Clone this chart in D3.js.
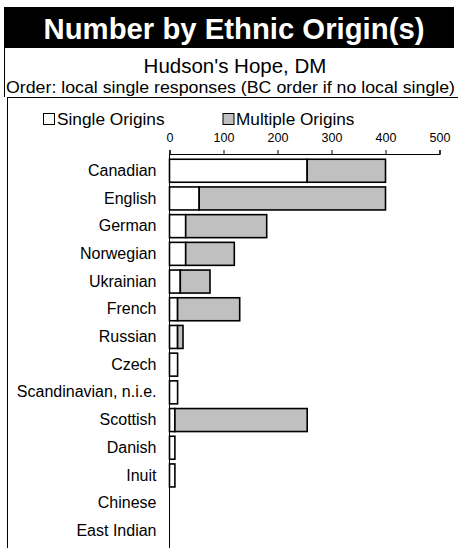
<!DOCTYPE html>
<html><head><meta charset="utf-8">
<script src="https://cdn.jsdelivr.net/npm/d3@7"></script>
<style>body{margin:0;background:#fff}svg{display:block;font-family:"Liberation Sans",Arial,sans-serif}</style>
</head><body>
<svg id="c" width="458" height="548"></svg>
<script>
const categories = ["Canadian","English","German","Norwegian","Ukrainian","French","Russian","Czech","Scandinavian, n.i.e.","Scottish","Danish","Inuit","Chinese","East Indian"];
const singleOrigins = [255,55,30,30,20,15,15,15,15,10,10,10,0,0];
const multipleOrigins = [145,345,150,90,55,115,10,0,0,245,0,0,0,0];
const tickValues = [0,100,200,300,400,500];

const svg = d3.select("#c");
// title bar
svg.append("rect").attr("x",4).attr("y",7).attr("width",450).attr("height",41).attr("fill","#000");
svg.append("text").attr("x",234).attr("y",39).attr("text-anchor","middle").attr("fill","#fff")
  .attr("font-size",29.3).attr("font-weight","bold").text("Number by Ethnic Origin(s)");
svg.append("line").attr("x1",4.5).attr("x2",4.5).attr("y1",48).attr("y2",97).attr("stroke","#000");
svg.append("text").attr("x",235).attr("y",72.5).attr("text-anchor","middle").attr("font-size",20.5).text("Hudson's Hope, DM");
svg.append("text").attr("x",6).attr("y",92.5).attr("font-size",16)
  .attr("textLength",449).attr("lengthAdjust","spacingAndGlyphs")
  .text("Order: local single responses (BC order if no local single)");
// plot frame
svg.append("line").attr("x1",7).attr("x2",458).attr("y1",97.5).attr("y2",97.5).attr("stroke","#000");
svg.append("line").attr("x1",7.5).attr("x2",7.5).attr("y1",97).attr("y2",548).attr("stroke","#000");

// legend
svg.append("rect").attr("x",43.5).attr("y",113.5).attr("width",11).attr("height",11).attr("fill","#fff").attr("stroke","#000");
svg.append("text").attr("x",57).attr("y",125).attr("font-size",17.3).text("Single Origins");
svg.append("rect").attr("x",223).attr("y",113.5).attr("width",11).attr("height",11).attr("fill","#c0c0c0").attr("stroke","#000");
svg.append("text").attr("x",236).attr("y",125).attr("font-size",17.2).text("Multiple Origins");

const x = d3.scaleLinear().domain([0,500]).range([169.5,439.5]);
const y = d3.scaleBand().domain(categories).range([156.9,544.7]).paddingInner(0.17).paddingOuter(0.085);

const xAxis = svg.append("g").attr("transform","translate(0,154)")
  .call(d3.axisTop(x).tickValues(tickValues).tickSize(4).tickPadding(8));
xAxis.select(".domain").attr("stroke","#000").attr("stroke-width",1.2);
xAxis.selectAll("text").attr("font-size",12.5).attr("font-family","Liberation Sans, Arial, sans-serif").attr("fill","#000");

const yAxis = svg.append("g").attr("transform","translate(169.5,0)")
  .call(d3.axisLeft(y).tickSize(0).tickPadding(13));
yAxis.select(".domain").remove();
yAxis.selectAll("text").attr("font-size",16).attr("font-family","Liberation Sans, Arial, sans-serif").attr("fill","#000");
svg.append("line").attr("x1",169.5).attr("x2",169.5).attr("y1",154).attr("y2",548).attr("stroke","#000");

const rows = categories.map((c,i)=>({c,s:singleOrigins[i],m:multipleOrigins[i]}));
svg.append("g").selectAll("rect").data(rows.filter(d=>d.s>0)).join("rect")
  .attr("x",x(0)).attr("y",d=>y(d.c)).attr("width",d=>x(d.s)-x(0)).attr("height",y.bandwidth())
  .attr("fill","#fff").attr("stroke","#000").attr("stroke-width",1.6);
svg.append("g").selectAll("rect").data(rows.filter(d=>d.m>0)).join("rect")
  .attr("x",d=>x(d.s)).attr("y",d=>y(d.c)).attr("width",d=>x(d.s+d.m)-x(d.s)).attr("height",y.bandwidth())
  .attr("fill","#c0c0c0").attr("stroke","#000").attr("stroke-width",1.6);
</script>
</body></html>
